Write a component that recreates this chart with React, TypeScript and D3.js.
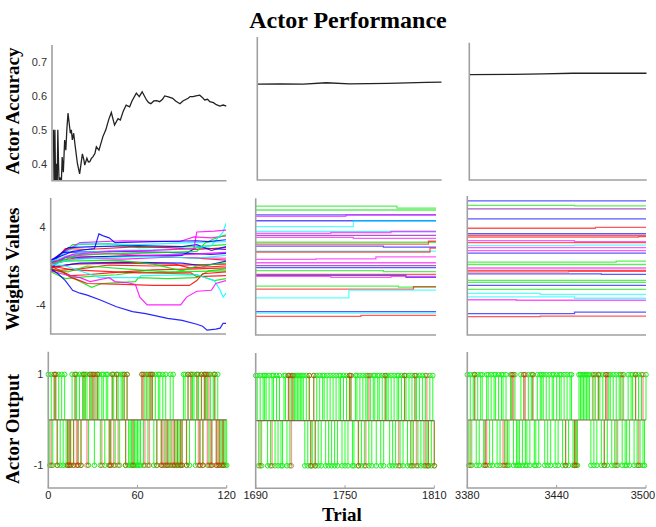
import React from 'react';
import * as d3 from 'd3';

// trial ranges shown in the three columns
const TRIAL_DOMAINS: [number, number][] = [[0, 120], [1690, 1810], [3380, 3500]];
const TRIAL_TICKS = [[0, 60, 120], [1690, 1750, 1810], [3380, 3440, 3500]];
const ACC_TICKS = [0.4, 0.5, 0.6, 0.7];
const W_TICKS = [-4, 4];
const OUT_TICKS = [-1, 1];

const BLUE = '#0000ff';
const GREEN = '#00e600';
const RED = '#ff0000';
const CYAN = '#00ffff';
const MAG = '#ff00ff';
const PURP = '#8000a0';

// actor accuracy (trial, accuracy)
const ACC1: [number, number][] = [
  [1, 0.5], [1.5, 0.3], [2, 0.5], [2.5, 0.33], [3, 0.4], [3.5, 0.3], [4, 0.5], [4.5, 0.4], [5, 0.33],
  [5.5, 0.36], [6.4, 0.34], [7, 0.42], [7.8, 0.375], [8.7, 0.47], [9.5, 0.44], [10.2, 0.5], [11, 0.549],
  [11.8, 0.52], [12.6, 0.49], [13.3, 0.5], [14, 0.47], [14.9, 0.49], [16, 0.45], [17.5, 0.4], [19, 0.37],
  [20.9, 0.429], [22, 0.41], [22.5, 0.396], [24, 0.416], [25, 0.405], [26, 0.406], [27, 0.415], [28.2, 0.421],
  [29.5, 0.43], [30.5, 0.45], [32.3, 0.44], [35, 0.48], [37, 0.5], [39, 0.53], [40.8, 0.551], [43, 0.514],
  [45.4, 0.533], [47, 0.529], [49, 0.555], [51, 0.573], [53.4, 0.568], [55, 0.585], [58, 0.608], [60, 0.598],
  [62, 0.612], [65, 0.588], [66.5, 0.58], [68, 0.577], [70, 0.585], [72, 0.586], [74, 0.583], [76, 0.59],
  [77.5, 0.6], [80, 0.597], [83, 0.593], [85, 0.585], [88, 0.577], [90, 0.585], [93.6, 0.593], [95, 0.598],
  [97, 0.598], [99, 0.6], [101.6, 0.602], [103, 0.597], [105, 0.588], [107, 0.59], [108.5, 0.583], [111, 0.58],
  [113, 0.574], [115.4, 0.57], [117.7, 0.573], [120, 0.57],
];
const ACC2: [number, number][] = [
  [1690, 0.618], [1705, 0.619], [1720, 0.618], [1735, 0.622], [1750, 0.619], [1775, 0.62], [1800, 0.623], [1810, 0.624],
];
const ACC3: [number, number][] = [
  [3380, 0.657], [3410, 0.658], [3430, 0.659], [3450, 0.661], [3500, 0.661],
];

// weights, first 120 trials (trial, value)
type WLine = { c: string; p: [number, number][] };
const W1: WLine[] = [
  { c: RED, p: [[0, -0.5], [20, -0.3], [40, 0.1], [70, 0], [90, 0.1], [120, 0.2]] },
  { c: GREEN, p: [[0, -0.6], [10, -1.3], [25, -1.1], [45, -0.9], [60, -0.6], [100, -0.9], [112, -1.5], [120, -1.3]] },
  { c: RED, p: [[0, 0.4], [20, 0.9], [60, 1.1], [100, 0.8], [120, 0.6]] },
  { c: BLUE, p: [[0, -0.2], [10, 0.9], [50, 1], [90, 1.1], [100, 1.9], [120, 1.7]] },
  { c: GREEN, p: [[0, 0.2], [15, 2.2], [40, 2.3], [60, 1.9], [100, 2], [120, 2.2]] },
  { c: MAG, p: [[0, 0.6], [20, 2.4], [50, 2.6], [88, 2.5], [98, 3], [110, 2.9], [120, 3.1]] },
  { c: CYAN, p: [[0, 0.4], [20, 2.3], [60, 2.2], [95, 2.4], [120, 2.5]] },
  { c: BLUE, p: [[0, 0.5], [8, 1.4], [40, 1.5], [80, 1.4], [110, 1.2], [120, 1.3]] },
  { c: RED, p: [[0, 0], [14, -1], [25, -0.9], [40, -0.7], [70, -0.4], [100, -0.3], [120, -0.2]] },
  { c: GREEN, p: [[0, -0.4], [12, -0.6], [25, 0], [60, -0.4], [80, -0.6], [120, -0.5]] },
  { c: MAG, p: [[0, 0.2], [20, 0.8], [50, 0.7], [80, 0.9], [120, 0.8]] },
  { c: RED, p: [[0, -0.2], [15, 0.2], [50, 0.3], [85, 0.2], [95, -0.2], [120, 0]] },
  { c: BLUE, p: [[0, -0.1], [20, 0.3], [50, 0.4], [90, 0.3], [105, 0], [120, 0.5]] },
  { c: GREEN, p: [[0, 0.3], [10, 0.5], [45, 0.6], [70, 0.2], [90, -0.5], [100, 0], [120, 0.3]] },
  { c: CYAN, p: [[0, 0.1], [12, 0.6], [40, 0.9], [70, 1], [100, 0.8], [120, 1.1]] },
  { c: MAG, p: [[0, 0], [10, 1], [40, 1.3], [60, 1.1], [95, 1.2], [120, 1.4]] },
  { c: RED, p: [[0, 0.1], [10, 1.8], [25, 1.7], [60, 2], [80, 1.9], [100, 1.7], [120, 1.9]] },
  { c: BLUE, p: [[0, 0.4], [12, 1.9], [30, 2], [60, 2.1], [90, 2], [100, 2.2], [110, 1.6], [120, 2]] },
  { c: GREEN, p: [[0, 0.2], [20, 1.2], [60, 1.3], [100, 1.5], [106, 2.4], [112, 2.8], [120, 3.2]] },
  { c: CYAN, p: [[0, 0.5], [20, 1.4], [50, 1.6], [90, 1.7], [110, 2.1], [114, 2.8], [118, 3.5], [120, 4.4]] },
  { c: MAG, p: [[0, 0.3], [15, 1.2], [40, 1.5], [70, 1.6], [98, 1.8], [100, 3.5], [112, 3.6], [120, 3.7]] },
  { c: BLUE, p: [[0, 0.6], [15, 1.5], [30, 1.8], [33, 3.3], [36, 3.1], [40, 2.9], [44, 2.4], [70, 2.5], [100, 2.6], [108, 2.5], [120, 2.7]] },
  { c: RED, p: [[0, 0], [15, -0.4], [30, -0.5], [60, -0.7], [96, -0.7], [100, -1.1], [120, -1]] },
  { c: GREEN, p: [[0, -0.2], [10, -0.8], [20, -1.6], [28, -2.2], [35, -1.8], [58, -1.6], [60, -1.2], [80, -1.3], [100, -1.2], [108, -0.5], [120, -0.3]] },
  { c: RED, p: [[0, -0.3], [8, -0.6], [14, -1.2], [20, -1.5], [25, -1.8], [50, -1.9], [70, -2], [95, -2], [100, -1.5], [104, -0.8], [120, -0.6]] },
  { c: CYAN, p: [[0, 0.2], [10, 0], [20, -0.5], [30, -1], [33, -1.2], [60, -1.2], [62, -1], [100, -0.9], [112, -1.5], [116, -2.5], [118, -3.2], [120, -2.8]] },
  { c: MAG, p: [[0, -0.5], [10, -0.9], [20, -1.2], [27, -1.6], [40, -1.2], [44, -1.6], [52, -1.7], [58, -1.9], [61, -3.2], [66, -4], [89, -4], [93, -3.2], [100, -2.6], [110, -2.5], [113, -1.8], [120, -1.5]] },
  { c: BLUE, p: [[0, -0.3], [5, -0.8], [10, -1.5], [15, -2.5], [20, -2.8], [25, -3], [34, -3.5], [45, -4.2], [56, -4.7], [65, -4.9], [80, -5.4], [90, -5.6], [100, -6], [104, -6.2], [107, -6.6], [113, -6.5], [116, -6.4], [118, -5.9], [120, -5.9]] },
];

// weights, later blocks: start value then [trial, new value] steps
type WStep = { c: string; v: number; s?: [number, number][] };
const W2: WStep[] = [
  { c: GREEN, v: 6.2, s: [[1784, 6.0]] },
  { c: GREEN, v: 5.8 },
  { c: BLUE, v: 5.3 },
  { c: MAG, v: 5.15, s: [[1750, 5.3]] },
  { c: BLUE, v: 4.7 },
  { c: CYAN, v: 4.1, s: [[1755, 4.65]] },
  { c: CYAN, v: 3.6 },
  { c: MAG, v: 3.4, s: [[1740, 3.5], [1780, 3.6]] },
  { c: PURP, v: 3.2 },
  { c: MAG, v: 3.0, s: [[1755, 2.9]] },
  { c: GREEN, v: 2.5 },
  { c: RED, v: 2.3, s: [[1805, 2.6]] },
  { c: BLUE, v: 2.1, s: [[1775, 2.0]] },
  { c: CYAN, v: 1.6 },
  { c: RED, v: 1.5, s: [[1806, 1.9]] },
  { c: MAG, v: 0.75, s: [[1730, 0.8], [1770, 1.0]] },
  { c: MAG, v: 0.4 },
  { c: PURP, v: 0.1 },
  { c: BLUE, v: -0.1 },
  { c: GREEN, v: -0.4, s: [[1775, -0.5]] },
  { c: RED, v: -0.8 },
  { c: BLUE, v: -0.9, s: [[1790, -1.1]] },
  { c: MAG, v: -1.0, s: [[1740, -1.1], [1780, -1.0]] },
  { c: GREEN, v: -2.0, s: [[1785, -2.1]] },
  { c: RED, v: -2.3, s: [[1795, -2.05]] },
  { c: CYAN, v: -3.2, s: [[1752, -2.4]] },
  { c: BLUE, v: -4.6 },
  { c: CYAN, v: -4.75 },
  { c: RED, v: -5.1, s: [[1760, -5.0]] },
];
const W3: WStep[] = [
  { c: BLUE, v: 6.5 },
  { c: GREEN, v: 6.05, s: [[3452, 6.0]] },
  { c: PURP, v: 5.7 },
  { c: BLUE, v: 4.7 },
  { c: RED, v: 3.75, s: [[3466, 3.85]] },
  { c: BLUE, v: 3.2 },
  { c: RED, v: 3.0 },
  { c: RED, v: 2.85, s: [[3495, 2.9]] },
  { c: MAG, v: 2.5, s: [[3452, 2.4]] },
  { c: RED, v: 2.3 },
  { c: CYAN, v: 2.0, s: [[3452, 2.05]] },
  { c: MAG, v: 1.8 },
  { c: MAG, v: 1.5 },
  { c: BLUE, v: 1.25 },
  { c: GREEN, v: 0.35, s: [[3480, 0.45]] },
  { c: GREEN, v: 0.1 },
  { c: MAG, v: -0.25 },
  { c: RED, v: -0.5 },
  { c: RED, v: -0.65, s: [[3448, -0.6]] },
  { c: BLUE, v: -0.85, s: [[3470, -0.9]] },
  { c: GREEN, v: -1.5 },
  { c: GREEN, v: -1.7 },
  { c: BLUE, v: -2.0 },
  { c: GREEN, v: -2.4 },
  { c: CYAN, v: -2.8, s: [[3429, -2.9]] },
  { c: CYAN, v: -3.15, s: [[3452, -3.3]] },
  { c: MAG, v: -3.45, s: [[3413, -3.5]] },
  { c: BLUE, v: -4.85, s: [[3452, -4.7]] },
  { c: RED, v: -5.15, s: [[3429, -5.1]] },
];

// actor output per trial: '+' = 1, '-' = -1, '.' = none
const OUT1_G = ['+-+-++-+-+', '-+----+-++', '-+-++++-++', '+-+++-++-+', '+--++-++-+', '++-+------',
  '---+-++-++', '+-+-++-+-+', '--+-+-----', '-++-+-+++-', '++-+-+++-+', '-++-+-----', '-'].join('');
const OUT1_R = ['..-.++-...', '...---.-+-', '-.-.+.-.+.', '++.+..-...', '.--+-.+-..', '.+-+...-..',
  '...++-.+-+', '+..-..--.-', '-.-.--.-.-', '-..-+.+...', '+--+-++-+-', '-.+---.--.', '.'].join('');
const OUT2_G = ['++-+-+++-+', '-++-+-+--+', '+-+-++++++', '+++-+-+--+', '-+-+-++-+-', '+-+-+-++-+',
  '-+-++--++-', '+-+-++-+-+', '+-++-+-+++', '-+-+-++-+-', '++-+-+-++-', '+-+-+--+-+', '-'].join('');
const OUT2_R = ['...-......', '.-........', '..++-+....', '......+-.+', '-.........', '..........',
  '...++....-', '....-.+...', '.......+..', '......-...', '+....-.+-.', '....-+-...', '-'].join('');
const OUT3_G = ['+-+-++-+-+', '+--++-+-++', '-+-++-+--+', '+-+---+-+-', '-+-++--+-+', '++-+-+-++-',
  '+-++-+-+-+', '+----+++++', '+++-+-+-++', '-+-+-++-+-', '+-++-+--+-', '++-+-+-+--', '+'].join('');
const OUT3_R = ['..-..+....', '..--......', '....-.-...', '++......++', '....+.....', '..........',
  '......-...', '..--......', '.....+..+.', '..-++.....', '-...+.....', '...+.-..+.', '.'].join('');

type Rect = { l: number; r: number; t: number; b: number };
const LAYOUT: { acc: Rect; w: Rect; out: Rect }[] = [
  { acc: { l: 52, r: 226.5, t: 45, b: 180.7 }, w: { l: 50.7, r: 226, t: 198, b: 334 }, out: { l: 48.3, r: 226.7, t: 351.7, b: 488 } },
  { acc: { l: 257.3, r: 441.7, t: 37, b: 180 }, w: { l: 255.7, r: 436, t: 198.3, b: 335 }, out: { l: 255.7, r: 434.3, t: 353, b: 488.3 } },
  { acc: { l: 469.3, r: 646.7, t: 42.7, b: 180 }, w: { l: 467.3, r: 646, t: 196, b: 335 }, out: { l: 467.3, r: 646, t: 352, b: 488 } },
];

const TICK_FONT = 'Liberation Sans, Arial, sans-serif';
const LABEL_FONT = 'Liberation Serif, Times New Roman, serif';
const AXIS = '#a0a0a0';

const Frame: React.FC<{ r: Rect }> = ({ r }) => (
  <path d={`M${r.l},${r.t}V${r.b}H${r.r}`} fill="none" stroke={AXIS} strokeWidth={1.6} />
);

function AccPanel({ id, r, domain, data, ticks }: { id: string; r: Rect; domain: [number, number]; data: [number, number][]; ticks: boolean }) {
  const x = d3.scaleLinear().domain(domain).range([r.l, r.r]);
  const y = d3.scaleLinear().domain([0.35, 0.75]).range([r.b, r.t]);
  const line = d3.line<[number, number]>().x(d => x(d[0])).y(d => y(d[1]));
  return (
    <g>
      <clipPath id={id}><rect x={r.l} y={r.t} width={r.r - r.l} height={r.b - r.t} /></clipPath>
      <path d={line(data) || ''} fill="none" stroke="#222" strokeWidth={1.3} clipPath={`url(#${id})`} />
      <Frame r={r} />
      {ticks && ACC_TICKS.map(t => (
        <text key={t} x={r.l - 5} y={y(t)} dy="0.35em" textAnchor="end" fontSize={11} fill="#333" fontFamily={TICK_FONT}>
          {d3.format('.1f')(t)}
        </text>
      ))}
    </g>
  );
}

function WeightPanel({ id, r, domain, lines, steps, ticks }: { id: string; r: Rect; domain: [number, number]; lines?: WLine[]; steps?: WStep[]; ticks: boolean }) {
  const x = d3.scaleLinear().domain(domain).range([r.l, r.r]);
  const y = d3.scaleLinear().domain([-7, 7]).range([r.b, r.t]);
  const lin = d3.line<[number, number]>().x(d => x(d[0])).y(d => y(d[1]));
  const stp = d3.line<[number, number]>().x(d => x(d[0])).y(d => y(d[1])).curve(d3.curveStepAfter);
  return (
    <g>
      <clipPath id={id}><rect x={r.l} y={r.t} width={r.r - r.l} height={r.b - r.t} /></clipPath>
      <g clipPath={`url(#${id})`}>
        {lines && lines.map((ln, i) => (
          <path key={i} d={lin(ln.p) || ''} fill="none" stroke={ln.c} strokeWidth={1.2} strokeOpacity={0.85} />
        ))}
        {steps && steps.map((s, i) => {
          const pts: [number, number][] = [[domain[0], s.v], ...(s.s || [])];
          pts.push([domain[1], pts[pts.length - 1][1]]);
          return <path key={i} d={stp(pts) || ''} fill="none" stroke={s.c} strokeWidth={1.3} strokeOpacity={0.65} />;
        })}
      </g>
      <Frame r={r} />
      {ticks && W_TICKS.map(t => (
        <text key={t} x={r.l - 5} y={y(t)} dy="0.35em" textAnchor="end" fontSize={11} fill="#333" fontFamily={TICK_FONT}>{t}</text>
      ))}
    </g>
  );
}

function OutPanel({ r, domain, g, red, ticks, xticks }: { r: Rect; domain: [number, number]; g: string; red: string; ticks: boolean; xticks: number[] }) {
  const x = d3.scaleLinear().domain(domain).range([r.l, r.r]);
  const y = d3.scaleLinear().domain([-1.5, 1.5]).range([r.b, r.t]);
  const gv = [...g].map((ch, i) => ({ t: domain[0] + i, v: ch === '+' ? 1 : -1 })).filter(d => d.t <= domain[1]);
  const rv = [...red].map((ch, i) => (ch === '.' ? null : { t: domain[0] + i, v: ch === '+' ? 1 : -1 }))
    .filter((d): d is { t: number; v: number } => d !== null && d.t <= domain[1]);
  return (
    <g>
      {gv.map(d => (
        <g key={'g' + d.t}>
          <line x1={x(d.t)} x2={x(d.t)} y1={y(0)} y2={y(d.v)} stroke="#22ff22" strokeWidth={1} />
          <circle cx={x(d.t)} cy={y(d.v)} r={2.3} fill="none" stroke="#22ee22" strokeWidth={1} />
        </g>
      ))}
      {rv.map(d => (
        <g key={'r' + d.t}>
          <line x1={x(d.t)} x2={x(d.t)} y1={y(0)} y2={y(d.v)} stroke={RED} strokeWidth={1.4} strokeOpacity={0.4} />
          <circle cx={x(d.t)} cy={y(d.v)} r={2.3} fill="none" stroke={RED} strokeWidth={1} strokeOpacity={0.45} />
        </g>
      ))}
      <line x1={x(domain[0])} x2={x(domain[1])} y1={y(0)} y2={y(0)} stroke="#7a6a48" strokeWidth={1.2} />
      <Frame r={r} />
      {xticks.map(t => {
        // keep the last label of the page inside the right edge
        const tx = Math.min(x(t), 643);
        return (
          <g key={t}>
            <line x1={x(t)} x2={x(t)} y1={r.b} y2={r.b - 3} stroke={AXIS} />
            <text x={tx} y={r.b + 11} textAnchor="middle" fontSize={11} fill="#222" fontFamily={TICK_FONT}>{t}</text>
          </g>
        );
      })}
      {ticks && OUT_TICKS.map(t => (
        <text key={t} x={r.l - 5} y={y(t)} dy="0.35em" textAnchor="end" fontSize={11} fill="#333" fontFamily={TICK_FONT}>{t}</text>
      ))}
    </g>
  );
}

export default function App() {
  const accs = [ACC1, ACC2, ACC3];
  const outs = [[OUT1_G, OUT1_R], [OUT2_G, OUT2_R], [OUT3_G, OUT3_R]];
  return (
    <svg width={656} height={527} style={{ position: 'absolute', left: 0, top: 0, background: '#fff' }}>
      <rect width={656} height={527} fill="#fff" />
      {LAYOUT.map((L, i) => (
        <g key={i}>
          <AccPanel id={`acc${i}`} r={L.acc} domain={TRIAL_DOMAINS[i]} data={accs[i]} ticks={i === 0} />
          <WeightPanel id={`w${i}`} r={L.w} domain={TRIAL_DOMAINS[i]} ticks={i === 0}
            lines={i === 0 ? W1 : undefined} steps={i === 1 ? W2 : i === 2 ? W3 : undefined} />
          <OutPanel r={L.out} domain={TRIAL_DOMAINS[i]} g={outs[i][0]} red={outs[i][1]} ticks={i === 0} xticks={TRIAL_TICKS[i]} />
        </g>
      ))}
      <text x={348} y={28} textAnchor="middle" fontSize={24} fontWeight="bold" fontFamily={LABEL_FONT}>Actor Performance</text>
      <text x={342} y={521} textAnchor="middle" fontSize={19} fontWeight="bold" fontFamily={LABEL_FONT}>Trial</text>
      {[['Actor Accuracy', 111], ['Weights Values', 269], ['Actor Output', 429]].map(([s, cy]) => (
        <text key={s as string} transform={`translate(19,${cy}) rotate(-90)`} textAnchor="middle" fontSize={19}
          fontWeight="bold" fontFamily={LABEL_FONT}>{s}</text>
      ))}
    </svg>
  );
}
